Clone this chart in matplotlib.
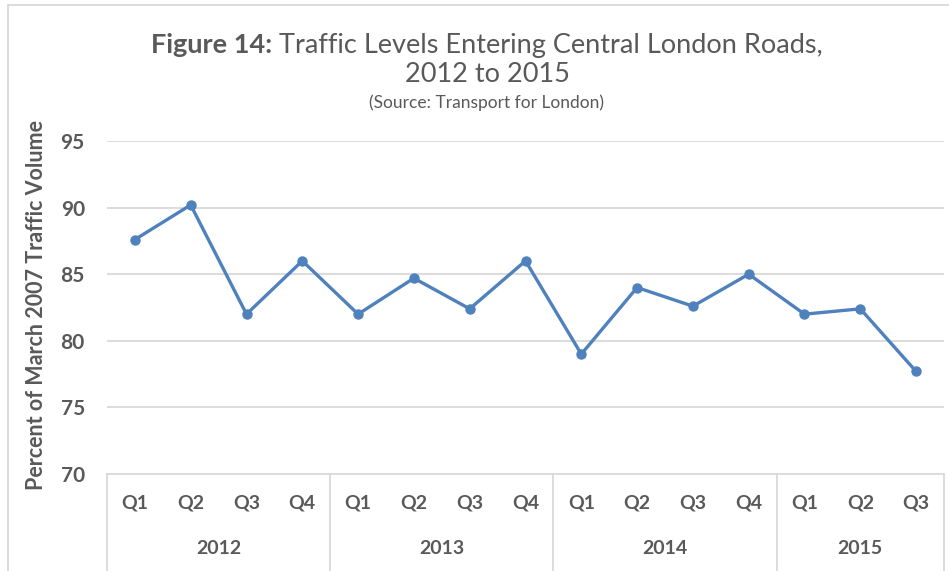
import matplotlib
matplotlib.use("Agg")
import matplotlib.pyplot as plt
from matplotlib.lines import Line2D
import matplotlib.transforms as mtransforms

plt.rcParams['font.family'] = ['Lato', 'DejaVu Sans']

quarters = ["Q1", "Q2", "Q3", "Q4", "Q1", "Q2", "Q3", "Q4",
            "Q1", "Q2", "Q3", "Q4", "Q1", "Q2", "Q3"]
years = ["2012", "2013", "2014", "2015"]
year_counts = [4, 4, 4, 3]
values = [87.6, 90.2, 82.0, 86.0, 82.0, 84.7, 82.4, 86.0,
          79.0, 84.0, 82.6, 85.0, 82.0, 82.4, 77.7]
yticks = [70, 75, 80, 85, 90, 95]

W, H = 949, 571
fig = plt.figure(figsize=(W / 100, H / 100), dpi=100)
left, right, top, bottom = 107, 944, 141, 474
ax = fig.add_axes([left / W, 1 - bottom / H, (right - left) / W, (bottom - top) / H])

text_color = "#595959"
grid_color = "#D9D9D9"
line_color = "#4F81BD"

x = list(range(len(values)))
ax.plot(x, values, color=line_color, lw=2.4, marker="o", ms=6.5,
        solid_joinstyle="round", zorder=3)
ax.set_xlim(-0.5, len(values) - 0.5)
ax.set_ylim(70, 95)
ax.set_yticks(yticks)
ax.set_yticklabels([str(v) for v in yticks], fontsize=15, fontweight="bold", color=text_color)
ax.tick_params(axis="y", length=0, pad=16)
ax.set_xticks([])
for v in yticks[1:]:
    ax.axhline(v, color=grid_color, lw=1.3, zorder=1)
for s in ["top", "right", "left"]:
    ax.spines[s].set_visible(False)
ax.spines["bottom"].set_color(grid_color)
ax.spines["bottom"].set_linewidth(1.3)

trans = mtransforms.blended_transform_factory(ax.transData, ax.transAxes)
q_y = (bottom - 503) / (bottom - top)
yr_y = (bottom - 549) / (bottom - top)
sep_bottom = (bottom - 571) / (bottom - top)
for i, q in enumerate(quarters):
    ax.text(i, q_y, q, transform=trans, ha="center", va="center",
            fontsize=14, fontweight="bold", color=text_color)

start = 0
bounds = [-0.5]
for yr, n in zip(years, year_counts):
    ax.text(start + (n - 1) / 2, yr_y, yr, transform=trans, ha="center", va="center",
            fontsize=14, fontweight="bold", color=text_color)
    start += n
    bounds.append(start - 0.5)
for b in bounds:
    ax.add_line(Line2D([b, b], [0, sep_bottom], transform=trans, color=grid_color,
                       lw=1.3, clip_on=False))

ax.set_ylabel("Percent of March 2007 Traffic Volume", fontsize=15.5, fontweight="bold",
              color=text_color)
ax.yaxis.set_label_coords((47 - left) / (right - left), (bottom - 305) / (bottom - top))

# Title
tfs = 19.5
t1 = fig.text(0, 0, "Figure 14:", fontsize=tfs, fontweight="bold", color=text_color,
              ha="left", va="center")
t2 = fig.text(0, 0, " Traffic Levels Entering Central London Roads,", fontsize=tfs,
              color=text_color, ha="left", va="center")
fig.canvas.draw()
r = fig.canvas.get_renderer()
w1 = t1.get_window_extent(r).width
w2 = t2.get_window_extent(r).width
x0 = 487 - (w1 + w2) / 2
t1.set_position((x0 / W, 1 - 45 / H))
t2.set_position(((x0 + w1) / W, 1 - 45 / H))
fig.text(487 / W, 1 - 74 / H, "2012 to 2015", fontsize=tfs, color=text_color,
         ha="center", va="center")
fig.text(487 / W, 1 - 103 / H, "(Source: Transport for London)", fontsize=12.5,
         color=text_color, ha="center", va="center")

# Chart border
fig.add_artist(Line2D([7.5 / W, 1], [1 - 4.5 / H, 1 - 4.5 / H], transform=fig.transFigure,
                      color=grid_color, lw=1.3))
fig.add_artist(Line2D([7.5 / W, 7.5 / W], [0, 1 - 4.5 / H], transform=fig.transFigure,
                      color=grid_color, lw=1.3))

fig.savefig("out.png", dpi=100, facecolor="white")
